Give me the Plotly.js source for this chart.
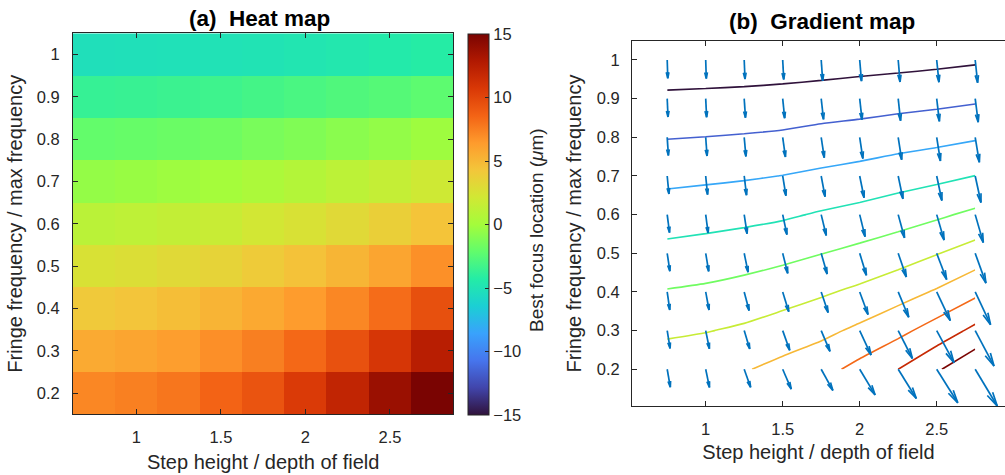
<!DOCTYPE html>
<html>
<head>
<meta charset="utf-8">
<script src="https://cdn.plot.ly/plotly-3.0.1.min.js"></script>
<style>html,body{margin:0;padding:0;background:#fff;overflow:hidden}</style>
</head>
<body>
<div id="chart" style="width:1005px;height:475px"></div>
<script>
// ---------- data ----------
const stepHeight = [0.75, 1, 1.25, 1.5, 1.75, 2, 2.25, 2.5, 2.75];
const fringeFreq = [0.2, 0.3, 0.4, 0.5, 0.6, 0.7, 0.8, 0.9, 1.0];
// best focus location (um); one row per fringe frequency (0.2 ... 1.0)
const focus020 = [7.20, 7.47, 7.85, 8.58, 9.33, 10.60, 12.00, 13.74, 15.65];
const focus030 = [5.66, 5.91, 6.30, 6.87, 7.51, 8.39, 9.48, 10.85, 12.48];
const focus040 = [4.12, 4.34, 4.70, 5.19, 5.75, 6.39, 7.19, 8.21, 9.54];
const focus050 = [2.57, 2.80, 3.09, 3.47, 3.96, 4.50, 5.12, 5.91, 6.84];
const focus060 = [1.03, 1.23, 1.45, 1.73, 2.18, 2.60, 3.11, 3.69, 4.39];
const focus070 = [-0.52, -0.37, -0.20, 0.03, 0.36, 0.70, 1.12, 1.52, 2.02];
const focus080 = [-2.08, -1.98, -1.85, -1.68, -1.38, -1.15, -0.83, -0.55, -0.19];
const focus090 = [-3.65, -3.58, -3.49, -3.36, -3.15, -2.96, -2.75, -2.55, -2.29];
const focus100 = [-5.23, -5.18, -5.13, -5.04, -4.95, -4.78, -4.64, -4.46, -4.25];
const contourLevels = [-4, 14, 2];          // start, end, step
const colorbarRange = [-15, 15];
const colorbarTicks = [-15, -10, -5, 0, 5, 10, 15];

const bestFocus = [focus020, focus030, focus040, focus050, focus060, focus070, focus080, focus090, focus100];

// ---------- styling ----------
const turbo = ['#30123b','#4145ab','#4675ed','#39a2fc','#1bcfd4','#24eca6','#61fc6c','#a4fc3b',
               '#d1e834','#f3c63a','#fe9b2d','#f36315','#d93806','#b11901','#7a0402'];
const turboScale = turbo.map((c, i) => [i / (turbo.length - 1), c]);
const W = 1005, H = 475;
const FONT = 'Liberation Sans, Arial, Helvetica, sans-serif';
const TXT = '#262626';

// axes geometry (pixels)
const ax1 = {l: 73, r: 453.3, t: 33.3, b: 414.3};
const ax2 = {l: 632, r: 1005, t: 41, b: 406};
const x1Range = [0.625, 2.875], y1Range = [0.15, 1.05];
const x2Range = [0.5214, 2.9435], y2Range = [0.105, 1.0491];

// ---------- gradient arrows (MATLAB-style gradient, unit spacing) ----------
const ny = bestFocus.length, nx = bestFocus[0].length;
const dxStep = stepHeight[1] - stepHeight[0];
const dyStep = fringeFreq[1] - fringeFreq[0];
const quiverScale = 0.3;
const pxX = (ax2.r - ax2.l) / (x2Range[1] - x2Range[0]);
const pxY = (ax2.b - ax2.t) / (y2Range[1] - y2Range[0]);
const ax = [], ay = [];
for (let i = 0; i < ny; i++) {
  for (let j = 0; j < nx; j++) {
    const Z = bestFocus;
    const gx = j === 0 ? Z[i][1] - Z[i][0] : (j === nx - 1 ? Z[i][nx-1] - Z[i][nx-2] : (Z[i][j+1] - Z[i][j-1]) / 2);
    const gy = i === 0 ? Z[1][j] - Z[0][j] : (i === ny - 1 ? Z[ny-1][j] - Z[ny-2][j] : (Z[i+1][j] - Z[i-1][j]) / 2);
    const x0 = stepHeight[j], y0 = fringeFreq[i];
    const u = quiverScale * gx * dxStep, v = quiverScale * gy * dyStep;
    // arrow head in pixel space
    const U = u * pxX, V = v * pxY, alpha = 0.33, beta = 0.22;
    const h1x = U - alpha * (U + beta * V), h1y = V - alpha * (V - beta * U);
    const h2x = U - alpha * (U - beta * V), h2y = V - alpha * (V + beta * U);
    ax.push(x0, x0 + u, null, x0 + h1x / pxX, x0 + u, x0 + h2x / pxX, null);
    ay.push(y0, y0 + v, null, y0 + h1y / pxY, y0 + v, y0 + h2y / pxY, null);
  }
}

// ---------- traces ----------
const heat = {
  type: 'heatmap', x: stepHeight, y: fringeFreq, z: bestFocus,
  colorscale: turboScale, zmin: colorbarRange[0], zmax: colorbarRange[1], zsmooth: false,
  xaxis: 'x', yaxis: 'y', hoverinfo: 'skip',
  colorbar: {
    x: 468 / W, xanchor: 'left', xpad: 0, ypad: 0,
    y: 1 - 224.5 / H, yanchor: 'middle', len: 381 / H, lenmode: 'fraction',
    thickness: 21, thicknessmode: 'pixels',
    outlinewidth: 1, outlinecolor: TXT,
    tickmode: 'array', tickvals: colorbarTicks,
    ticks: 'inside', ticklen: 4, tickcolor: TXT,
    tickfont: {family: FONT, size: 16.5, color: TXT}
  }
};
const cont = {
  type: 'contour', x: stepHeight, y: fringeFreq, z: bestFocus,
  xaxis: 'x2', yaxis: 'y2', hoverinfo: 'skip',
  autocontour: false,
  contours: {start: contourLevels[0], end: contourLevels[1], size: contourLevels[2], coloring: 'lines'},
  colorscale: turboScale, zauto: false, zmin: contourLevels[0], zmax: contourLevels[1],
  line: {width: 1.6, smoothing: 0.6}, showscale: false
};
const arrows = {
  type: 'scatter', mode: 'lines', x: ax, y: ay, xaxis: 'x2', yaxis: 'y2',
  line: {color: '#0072BD', width: 1.7}, hoverinfo: 'skip', showlegend: false
};

function axisBase(extra) {
  return Object.assign({
    showgrid: false, zeroline: false, showline: true, linecolor: TXT, linewidth: 1,
    ticks: 'inside', ticklen: 5, tickcolor: TXT, tickwidth: 1,
    tickfont: {family: FONT, size: 16.5, color: TXT}
  }, extra);
}

const layout = {
  width: W, height: H, margin: {l: 0, r: 0, t: 0, b: 0},
  paper_bgcolor: '#fff', plot_bgcolor: '#fff', showlegend: false,
  font: {family: FONT, color: TXT},
  xaxis: axisBase({domain: [ax1.l / W, ax1.r / W], range: x1Range, tick0: 0, dtick: 0.5, mirror: 'ticks',
    ticklabelstandoff: 8, anchor: 'y',
    title: {text: 'Step height / depth of field', font: {family: FONT, size: 20, color: TXT}, standoff: 9}}),
  yaxis: axisBase({domain: [1 - ax1.b / H, 1 - ax1.t / H], range: y1Range, tick0: 0, dtick: 0.1, mirror: 'ticks',
    ticklabelstandoff: 9, anchor: 'x',
    title: {text: 'Fringe frequency / max frequency', font: {family: FONT, size: 20, color: TXT}, standoff: 8}}),
  xaxis2: axisBase({domain: [ax2.l / W, ax2.r / W], range: x2Range, tick0: 0, dtick: 0.5, mirror: 'ticks',
    ticklabelstandoff: 8, anchor: 'y2',
    title: {text: 'Step height / depth of field', font: {family: FONT, size: 20, color: TXT}, standoff: 8}}),
  yaxis2: axisBase({domain: [1 - ax2.b / H, 1 - ax2.t / H], range: y2Range, tick0: 0, dtick: 0.1, mirror: false,
    ticklabelstandoff: 8, anchor: 'x2',
    title: {text: 'Fringe frequency / max frequency', font: {family: FONT, size: 20, color: TXT}, standoff: 9}}),
  annotations: [
    {xref: 'paper', yref: 'paper', x: 259 / W, y: 1 - 18 / H, xanchor: 'center', yanchor: 'middle', showarrow: false,
     text: '<b>(a)\u00A0 Heat map</b>', font: {family: FONT, size: 22.5, color: '#000'}},
    {xref: 'paper', yref: 'paper', x: 822 / W, y: 1 - 22 / H, xanchor: 'center', yanchor: 'middle', showarrow: false,
     text: '<b>(b)\u00A0 Gradient map</b>', font: {family: FONT, size: 22.5, color: '#000'}},
    // colorbar label
    {xref: 'paper', yref: 'paper', x: 537 / W, y: 1 - 230 / H, xanchor: 'center', yanchor: 'middle', showarrow: false,
     textangle: -90, text: 'Best focus location (<i>μ</i>m)', font: {family: FONT, size: 19, color: TXT}}
  ]
};

Plotly.newPlot('chart', [heat, cont, arrows], layout, {staticPlot: true, displayModeBar: false});
</script>
</body>
</html>
